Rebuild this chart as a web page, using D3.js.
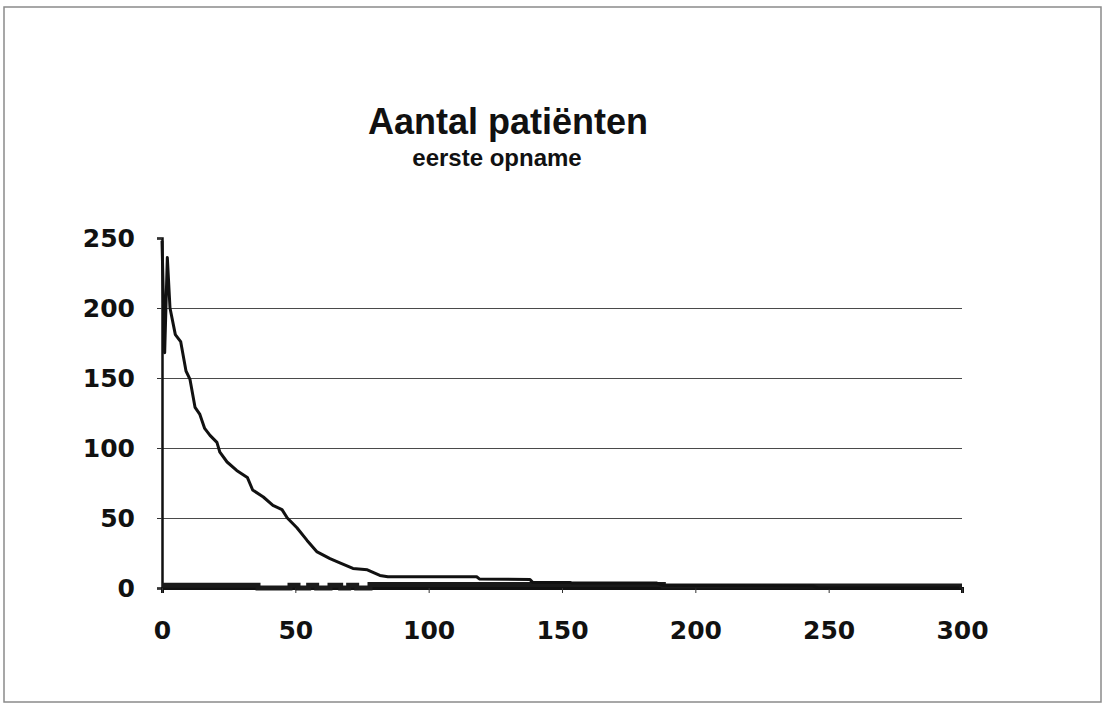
<!DOCTYPE html>
<html>
<head>
<meta charset="utf-8">
<script src="https://cdn.jsdelivr.net/npm/d3@7"></script>
<style>
  html, body { margin: 0; padding: 0; background: #fff; }
  svg { display: block; }
</style>
</head>
<body>
<script>
// Daily number of patients (first admission) by day
const dagen  = [0, 1, 2, 3, 5, 7, 9, 10.5, 12.4, 14.2, 16, 18, 20.6, 21.7, 24.4, 28, 32, 34, 38, 41.6, 45, 47,
                50.6, 54.4, 58, 63, 66.7, 71.6, 77, 81.7, 84.7, 118, 119, 138, 139, 153, 154, 185.6, 188, 244, 246, 299];
const aantal = [248, 168, 236, 200, 181, 176, 155, 149, 129, 124, 114, 109, 104, 97, 90, 84, 79, 70, 65, 59, 56, 50,
                43, 34, 26, 21, 18, 14, 13, 9, 8, 8, 6.5, 6, 4, 4, 3.5, 3.5, 2, 1.5, 0, 0];

// Second, low series running along the axis
const dagen2  = [0, 36, 48, 51, 55, 58, 63, 67, 70, 73, 78, 188, 300];
const aantal2 = [2, 0, 2, 0, 2, 0, 2, 0, 2, 0, 2.5, 1.5, 1.5];

const xTicks = [0, 50, 100, 150, 200, 250, 300];
const yTicks = [0, 50, 100, 150, 200, 250];

const titel = "Aantal patiënten";
const ondertitel = "eerste opname";

const W = 1106, H = 704;
const svg = d3.select("body").append("svg").attr("width", W).attr("height", H);

// outer frame
svg.append("rect").attr("x", 4).attr("y", 7).attr("width", 1097).attr("height", 695)
  .attr("fill", "none").attr("stroke", "#8a8a8a").attr("stroke-width", 1.5);

const x = d3.scaleLinear().domain([0, 300]).range([162, 962]);
const y = d3.scaleLinear().domain([0, 250]).range([588, 238]);

// titles
svg.append("text").attr("x", 508).attr("y", 134).attr("text-anchor", "middle")
  .attr("font-family", "Liberation Sans, Arial, sans-serif").attr("font-weight", "bold")
  .attr("font-size", 36).attr("fill", "#111").text(titel);
svg.append("text").attr("x", 497).attr("y", 166).attr("text-anchor", "middle")
  .attr("font-family", "Liberation Sans, Arial, sans-serif").attr("font-weight", "bold")
  .attr("font-size", 24).attr("fill", "#111").text(ondertitel);

// horizontal gridlines
svg.append("g").selectAll("line").data(yTicks.filter(d => d > 0 && d < 250)).join("line")
  .attr("x1", x(0)).attr("x2", x(300))
  .attr("y1", d => Math.round(y(d)) + 0.5).attr("y2", d => Math.round(y(d)) + 0.5)
  .attr("stroke", "#4a4a4a").attr("stroke-width", 1.2);

// axes
const yAxis = svg.append("g").attr("transform", `translate(${x(0)},0)`)
  .call(d3.axisLeft(y).tickValues(yTicks).tickSize(5).tickPadding(22).tickFormat(d3.format("d")));
const xAxis = svg.append("g").attr("transform", `translate(0,${y(0)})`)
  .call(d3.axisBottom(x).tickValues(xTicks).tickSize(5).tickPadding(28).tickFormat(d3.format("d")));

[yAxis, xAxis].forEach(g => {
  g.select(".domain").attr("stroke", "#111").attr("stroke-width", 2.5);
  g.selectAll(".tick line").attr("stroke", "#333").attr("stroke-width", 1);
  g.selectAll(".tick text").attr("font-family", "DejaVu Sans, sans-serif").attr("font-weight", "bold")
    .attr("font-size", 25).attr("fill", "#111");
});
xAxis.select(".domain").attr("stroke-width", 3);

// low series
const line2 = d3.line().x((d, i) => x(dagen2[i])).y(d => y(d)).curve(d3.curveStepAfter);
svg.append("path").datum(aantal2).attr("d", line2)
  .attr("fill", "none").attr("stroke", "#1a1a1a").attr("stroke-width", 5);

// main series
const line1 = d3.line().x((d, i) => x(dagen[i])).y(d => y(d));
svg.append("path").datum(aantal).attr("d", line1)
  .attr("fill", "none").attr("stroke", "#111").attr("stroke-width", 3)
  .attr("stroke-linejoin", "round");
</script>
</body>
</html>
